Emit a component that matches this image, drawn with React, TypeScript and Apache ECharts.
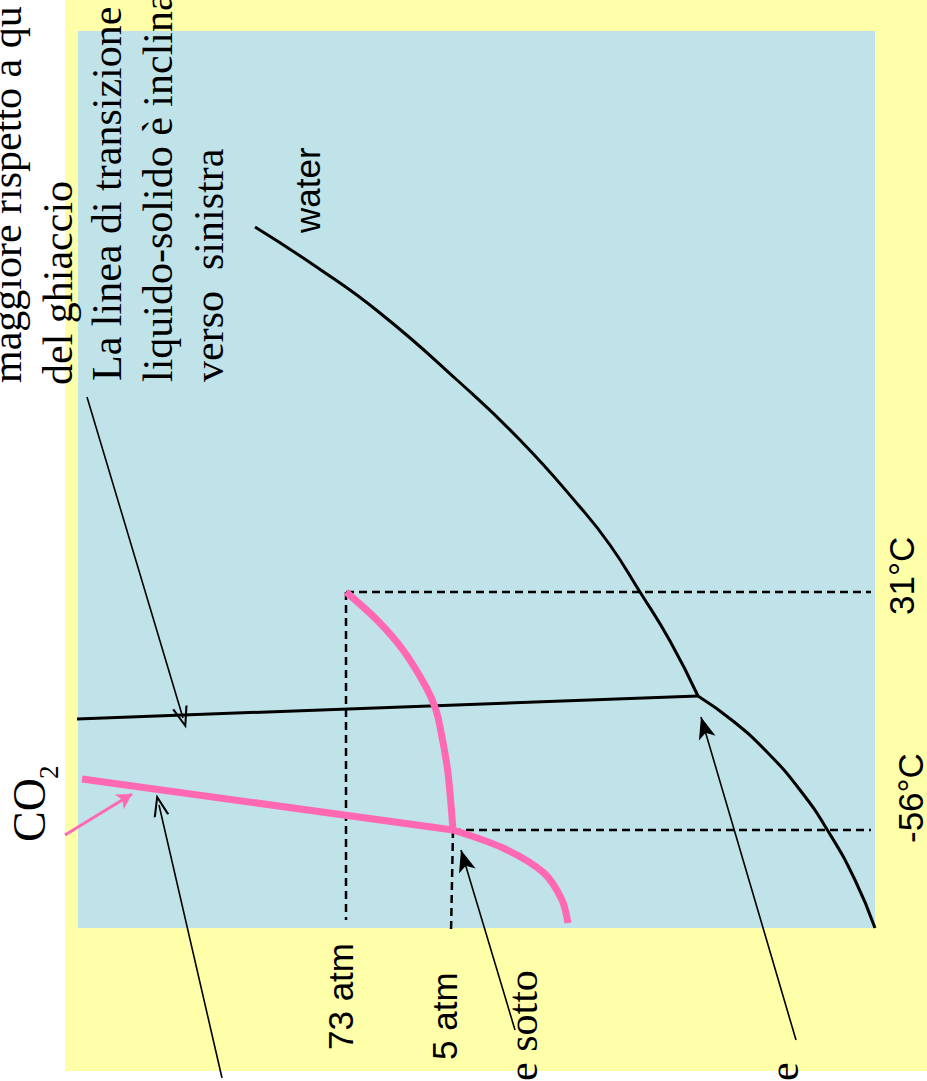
import React, { useEffect, useRef } from "react";
import * as echarts from "echarts";

// Diagram coordinates: x = pressure direction (rotated picture), y = temperature direction
const waterVaporCurve: number[][] = [
  [177, 701], [240, 660], [302, 615], [379, 548], [442, 488], [502, 421],
  [532, 383], [562, 336], [592, 287], [620, 232],
];
const waterSublimationCurve: number[][] = [
  [620, 232], [655, 207], [689, 176], [722, 138], [750, 97], [777, 48], [797, 0],
];
const waterMeltLine: number[][] = [[-1, 209], [620, 232]];

const co2Crit = [268, 336];
const co2Triple = [375, 98];
const co2MeltCurve: number[][] = [
  co2Crit, [299, 308], [325, 278], [348, 241], [358, 218], [364, 191], [370, 155], co2Triple,
];
const co2SublimLine: number[][] = [[4, 149], co2Triple];
const co2LowerCurve: number[][] = [co2Triple, [425, 80], [466, 55], [484, 28], [490, 5]];

const dashed31C: number[][] = [co2Crit, [793, 336]];
const dashed73atm: number[][] = [co2Crit, [co2Crit[0], 8]];
const dashedMinus56C: number[][] = [co2Triple, [793, co2Triple[1]]];
const dashed5atm: number[][] = [co2Triple, [co2Triple[0] - 2, -5]];

const openArrows: number[][][] = [
  [[9, 531], [105, 210]],
  [[144, -150], [81, 123]],
];
const filledArrows: number[][][] = [
  [[437, -102], [383, 78]],
  [[718, -112], [623, 211]],
];
const pinkArrows: number[][][] = [[[-13, 93], [54, 134]]];

// Background panels: [bottom-left, top-right]
const slidePanel: number[][] = [[-13, -143], [849, 928]];
const plotPanel: number[][] = [[0, 0], [797, 897]];

const serifLines = [
  "maggiore rispetto a qu",
  "del ghiaccio",
  "La linea di transizione",
  "liquido-solido è inclina",
  "verso  sinistra",
];
const tickLabels = ["73 atm", "5 atm", "31°C", "-56°C"];

const SERIF = '"Liberation Serif", "Times New Roman", serif';
const SANS = '"Liberation Sans", Arial, sans-serif';
const PINK = "#ff69b4";
const OPEN_V = "path://M5,0 L10,12 L8.6,12 L5,3.2 L1.4,12 L0,12 Z";

function rotText(text: string, baseline: number, start: number, size: number, family: string) {
  return {
    type: "text",
    x: baseline - 0.34 * size,
    y: start,
    rotation: Math.PI / 2,
    z: 100,
    silent: true,
    style: {
      text,
      fontSize: size,
      fontFamily: family,
      fill: "#000",
      align: "left",
      textAlign: "left",
      verticalAlign: "middle",
      textVerticalAlign: "middle",
    },
  };
}

function lineSeries(data: number[][], color: string, width: number, smooth: boolean | number, dashed = false) {
  return {
    type: "line",
    data,
    smooth,
    showSymbol: false,
    symbol: "none",
    clip: false,
    silent: true,
    lineStyle: { color, width, type: dashed ? [8, 5] : "solid", cap: "butt" },
    z: dashed ? 3 : 4,
  };
}

function arrowSeries(pairs: number[][][], color: string, width: number, symbol: string, size: number[]) {
  return {
    type: "line",
    data: [],
    clip: false,
    silent: true,
    markLine: {
      silent: true,
      animation: false,
      symbol: ["none", symbol],
      symbolSize: size,
      label: { show: false },
      lineStyle: { color, width, type: "solid" },
      emphasis: { disabled: true },
      data: pairs.map((p) => [{ coord: p[0] }, { coord: p[1] }]),
    },
    z: 6,
  };
}

export default function App() {
  const ref = useRef<HTMLDivElement>(null);
  useEffect(() => {
    if (!ref.current) return;
    const chart = echarts.init(ref.current, undefined, { renderer: "svg" });
    chart.setOption({
      animation: false,
      backgroundColor: "#ffffff",
      grid: { left: 0, top: 0, width: 927, height: 1081, show: false },
      xAxis: { type: "value", min: -78, max: 849, show: false },
      yAxis: { type: "value", min: -153, max: 928, show: false },
      graphic: {
        elements: [
          rotText(serifLines[0], 21, 383, 42, SERIF),
          rotText(serifLines[1], 72, 385, 42, SERIF),
          rotText(serifLines[2], 121, 381, 42, SERIF),
          rotText(serifLines[3], 172, 382, 42, SERIF),
          rotText(serifLines[4], 223, 382, 42, SERIF),
          rotText("water", 319, 233, 35, SANS),
          rotText("CO", 45, 842, 46, SERIF),
          rotText("2", 58, 779, 27, SERIF),
          rotText(tickLabels[0], 352, 1050, 35, SANS),
          rotText(tickLabels[1], 456, 1060, 35, SANS),
          rotText(tickLabels[2], 913, 615, 35, SANS),
          rotText(tickLabels[3], 922, 843, 35, SANS),
          rotText("e sotto", 537, 1081, 42, SERIF),
          rotText("e", 798, 1081, 42, SERIF),
        ],
      },
      series: [
        {
          type: "line",
          data: [],
          clip: false,
          silent: true,
          z: 0,
          markArea: {
            silent: true,
            label: { show: false },
            emphasis: { disabled: true },
            data: [
              [{ coord: slidePanel[0], itemStyle: { color: "#ffffaa", opacity: 1 } }, { coord: slidePanel[1] }],
              [{ coord: plotPanel[0], itemStyle: { color: "#bfe3e8", opacity: 1 } }, { coord: plotPanel[1] }],
            ],
          },
        },
        lineSeries(dashed31C, "#000", 2.5, false, true),
        lineSeries(dashed73atm, "#000", 2.5, false, true),
        lineSeries(dashedMinus56C, "#000", 2.5, false, true),
        lineSeries(dashed5atm, "#000", 2.5, false, true),
        lineSeries(waterVaporCurve, "#000", 3, 0.5),
        lineSeries(waterSublimationCurve, "#000", 3, 0.5),
        lineSeries(waterMeltLine, "#000", 3, false),
        lineSeries(co2MeltCurve, PINK, 7, 0.3),
        lineSeries(co2SublimLine, PINK, 7, false),
        lineSeries(co2LowerCurve, PINK, 7, 0.3),
        arrowSeries(openArrows, "#000", 1.6, OPEN_V, [16, 22]),
        arrowSeries(filledArrows, "#000", 1.6, "arrow", [13, 22]),
        arrowSeries(pinkArrows, PINK, 3, "arrow", [13, 15]),
      ],
    });
    return () => chart.dispose();
  }, []);
  return (
    <div
      ref={ref}
      style={{ position: "absolute", left: 0, top: 0, width: 927, height: 1081 }}
    />
  );
}
